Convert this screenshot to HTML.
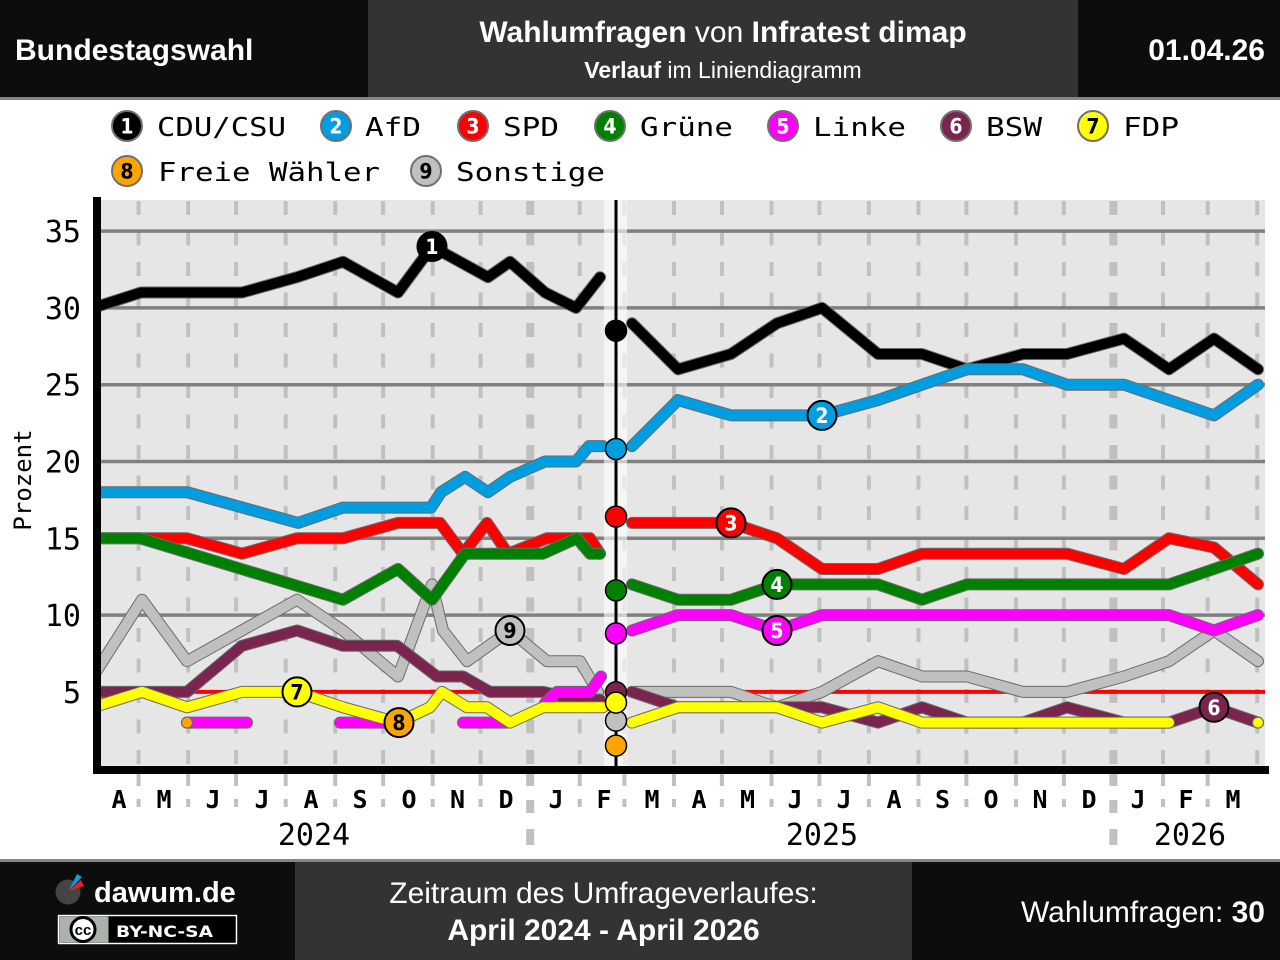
<!DOCTYPE html>
<html><head><meta charset="utf-8"><style>
html,body{margin:0;padding:0;background:#fff;}
svg{display:block;}
.o{fill:none;stroke:#6a6a6a;stroke-width:12;stroke-linecap:round;stroke-linejoin:round;}
.s{fill:none;stroke-width:10;stroke-linecap:round;stroke-linejoin:round;}
.hd{font-family:"Liberation Sans",Arial,sans-serif;fill:#fff;}
.mono{font-family:"DejaVu Sans Mono","Liberation Mono",monospace;}
.num{font-family:"DejaVu Sans Condensed","DejaVu Sans","Liberation Sans",sans-serif;font-weight:bold;font-size:21px;text-anchor:middle;}
</style></head><body>
<svg width="1280" height="960" viewBox="0 0 1280 960" xmlns="http://www.w3.org/2000/svg">
<defs><clipPath id="pc"><rect x="93" y="200" width="1172" height="567"/></clipPath></defs>
<rect width="1280" height="960" fill="#fff"/>
<!-- header -->
<rect x="0" y="0" width="368" height="97" fill="#0d0d0d"/>
<rect x="368" y="0" width="710" height="97" fill="#333"/>
<rect x="1078" y="0" width="202" height="97" fill="#0d0d0d"/>
<rect x="0" y="97" width="1280" height="3" fill="#858585"/>
<text class="hd" x="15" y="60" font-size="30" font-weight="bold">Bundestagswahl</text>
<text class="hd" x="723" y="42" font-size="30" text-anchor="middle"><tspan font-weight="bold">Wahlumfragen</tspan> von <tspan font-weight="bold">Infratest dimap</tspan></text>
<text class="hd" x="723" y="78" font-size="23" text-anchor="middle"><tspan font-weight="bold">Verlauf</tspan> im Liniendiagramm</text>
<text class="hd" x="1265" y="60" font-size="30" font-weight="bold" text-anchor="end">01.04.26</text>
<!-- legend -->
<g stroke="#707070" stroke-width="2">
<circle cx="127" cy="126" r="15" fill="#000"/>
<circle cx="336" cy="126" r="15" fill="#009ee0"/>
<circle cx="473" cy="126" r="15" fill="#ff0000"/>
<circle cx="610" cy="126" r="15" fill="#008000"/>
<circle cx="783" cy="126" r="15" fill="#ff00ff"/>
<circle cx="956" cy="126" r="15" fill="#7b2450"/>
<circle cx="1093" cy="126" r="15" fill="#ffff00"/>
<circle cx="127" cy="171" r="15" fill="#ffa500"/>
<circle cx="426" cy="171" r="15" fill="#c0c0c0"/>
</g>
<g class="num">
<text x="127" y="133.5" fill="#fff">1</text>
<text x="336" y="133.5" fill="#fff">2</text>
<text x="473" y="133.5" fill="#fff">3</text>
<text x="610" y="133.5" fill="#fff">4</text>
<text x="783" y="133.5" fill="#fff">5</text>
<text x="956" y="133.5" fill="#fff">6</text>
<text x="1093" y="133.5" fill="#000">7</text>
<text x="127" y="178.5" fill="#000">8</text>
<text x="426" y="178.5" fill="#000">9</text>
</g>
<g class="mono" font-size="26" fill="#000">
<text x="157" y="136" textLength="129" lengthAdjust="spacingAndGlyphs">CDU/CSU</text>
<text x="365" y="136" textLength="56" lengthAdjust="spacingAndGlyphs">AfD</text>
<text x="503" y="136" textLength="56" lengthAdjust="spacingAndGlyphs">SPD</text>
<text x="640" y="136" textLength="93" lengthAdjust="spacingAndGlyphs">Grüne</text>
<text x="813" y="136" textLength="93" lengthAdjust="spacingAndGlyphs">Linke</text>
<text x="986" y="136" textLength="56" lengthAdjust="spacingAndGlyphs">BSW</text>
<text x="1123" y="136" textLength="56" lengthAdjust="spacingAndGlyphs">FDP</text>
<text x="158" y="181" textLength="222" lengthAdjust="spacingAndGlyphs">Freie Wähler</text>
<text x="456" y="181" textLength="149" lengthAdjust="spacingAndGlyphs">Sonstige</text>
</g>
<!-- plot background -->
<rect x="101" y="200" width="1164" height="567" fill="#e6e6e6"/>
<!-- month lines -->
<g stroke="#c0c0c0" stroke-width="4" stroke-dasharray="14 16.5">
<line x1="138.6" y1="201" x2="138.6" y2="766"/>
<line x1="188.2" y1="201" x2="188.2" y2="766"/>
<line x1="236.1" y1="201" x2="236.1" y2="766"/>
<line x1="285.7" y1="201" x2="285.7" y2="766"/>
<line x1="335.2" y1="201" x2="335.2" y2="766"/>
<line x1="383.1" y1="201" x2="383.1" y2="766"/>
<line x1="432.7" y1="201" x2="432.7" y2="766"/>
<line x1="480.6" y1="201" x2="480.6" y2="766"/>
<line x1="579.7" y1="201" x2="579.7" y2="766"/>
<line x1="624.4" y1="201" x2="624.4" y2="766"/>
<line x1="674" y1="201" x2="674" y2="766"/>
<line x1="721.9" y1="201" x2="721.9" y2="766"/>
<line x1="771.5" y1="201" x2="771.5" y2="766"/>
<line x1="819.4" y1="201" x2="819.4" y2="766"/>
<line x1="868.9" y1="201" x2="868.9" y2="766"/>
<line x1="918.5" y1="201" x2="918.5" y2="766"/>
<line x1="966.4" y1="201" x2="966.4" y2="766"/>
<line x1="1016" y1="201" x2="1016" y2="766"/>
<line x1="1063.9" y1="201" x2="1063.9" y2="766"/>
<line x1="1163" y1="201" x2="1163" y2="766"/>
<line x1="1207.7" y1="201" x2="1207.7" y2="766"/>
<line x1="1257.2" y1="201" x2="1257.2" y2="766"/>
<line x1="530.2" y1="201" x2="530.2" y2="766" stroke-width="8"/>
<line x1="1113.4" y1="201" x2="1113.4" y2="766" stroke-width="8"/>
</g>
<!-- gridlines -->
<g stroke="#808080" stroke-width="3.5">
<line x1="101" y1="231.1" x2="1265" y2="231.1"/>
<line x1="101" y1="307.9" x2="1265" y2="307.9"/>
<line x1="101" y1="384.7" x2="1265" y2="384.7"/>
<line x1="101" y1="461.5" x2="1265" y2="461.5"/>
<line x1="101" y1="538.3" x2="1265" y2="538.3"/>
<line x1="101" y1="615.1" x2="1265" y2="615.1"/>
</g>
<line x1="101" y1="691.9" x2="1265" y2="691.9" stroke="#ff0000" stroke-width="4"/>
<rect x="604" y="200" width="23" height="567" fill="#fff" fill-opacity="0.6"/>
<!-- series -->
<g clip-path="url(#pc)">
<!-- Sonstige -->
<polyline class="o" points="93,676.5 142,599.7 187,661.2 297,599.7 343,630.5 398,676.5 432,584.4 443,630.5 467,661.2 510,630.5 547,661.2 580,661.2 598,691.9"/>
<polyline class="s" stroke="#c0c0c0" points="93,676.5 142,599.7 187,661.2 297,599.7 343,630.5 398,676.5 432,584.4 443,630.5 467,661.2 510,630.5 547,661.2 580,661.2 598,691.9"/>
<polyline class="o" points="632,691.9 731,691.9 777,707.3 822,691.9 878,661.2 922,676.5 967,676.5 1023,691.9 1067,691.9 1124,676.5 1169,661.2 1214,630.5 1258,661.2"/>
<polyline class="s" stroke="#c0c0c0" points="632,691.9 731,691.9 777,707.3 822,691.9 878,661.2 922,676.5 967,676.5 1023,691.9 1067,691.9 1124,676.5 1169,661.2 1214,630.5 1258,661.2"/>
<!-- CDU -->
<polyline class="o" points="93,307.9 141,292.5 242,292.5 297,277.2 343,261.8 398,292.5 432,246.5 488,277.2 510,261.8 545,292.5 576,307.9 600,277.2"/>
<polyline class="s" stroke="#000" points="93,307.9 141,292.5 242,292.5 297,277.2 343,261.8 398,292.5 432,246.5 488,277.2 510,261.8 545,292.5 576,307.9 600,277.2"/>
<polyline class="o" points="632,323.3 678,369.3 731,354 777,323.3 822,307.9 878,354 922,354 967,369.3 1023,354 1067,354 1124,338.6 1169,369.3 1214,338.6 1258,369.3"/>
<polyline class="s" stroke="#000" points="632,323.3 678,369.3 731,354 777,323.3 822,307.9 878,354 922,354 967,369.3 1023,354 1067,354 1124,338.6 1169,369.3 1214,338.6 1258,369.3"/>
<!-- AfD -->
<polyline class="o" points="93,492.2 187,492.2 298,522.9 343,507.6 431,507.6 441,492.2 465,476.9 488,492.2 510,476.9 545,461.5 576,461.5 589,446.1 603,446.1"/>
<polyline class="s" stroke="#009ee0" points="93,492.2 187,492.2 298,522.9 343,507.6 431,507.6 441,492.2 465,476.9 488,492.2 510,476.9 545,461.5 576,461.5 589,446.1 603,446.1"/>
<polyline class="o" points="632,446.1 678,400.1 731,415.4 822,415.4 878,400.1 922,384.7 967,369.3 1023,369.3 1067,384.7 1124,384.7 1169,400.1 1214,415.4 1258,384.7"/>
<polyline class="s" stroke="#009ee0" points="632,446.1 678,400.1 731,415.4 822,415.4 878,400.1 922,384.7 967,369.3 1023,369.3 1067,384.7 1124,384.7 1169,400.1 1214,415.4 1258,384.7"/>
<!-- SPD -->
<polyline class="o" points="93,538.3 187,538.3 242,553.7 297,538.3 343,538.3 398,522.9 440,522.9 463,553.7 487,522.9 508,553.7 547,538.3 590,538.3 600,553.7"/>
<polyline class="s" stroke="#ff0000" points="93,538.3 187,538.3 242,553.7 297,538.3 343,538.3 398,522.9 440,522.9 463,553.7 487,522.9 508,553.7 547,538.3 590,538.3 600,553.7"/>
<polyline class="o" points="632,522.9 731,522.9 777,538.3 822,569 878,569 922,553.7 1067,553.7 1124,569 1169,538.3 1214,547.5 1258,584.4"/>
<polyline class="s" stroke="#ff0000" points="632,522.9 731,522.9 777,538.3 822,569 878,569 922,553.7 1067,553.7 1124,569 1169,538.3 1214,547.5 1258,584.4"/>
<!-- Grüne -->
<polyline class="o" points="93,538.3 140,538.3 343,599.7 398,569 432,599.7 465,553.7 543,553.7 577,538.3 590,553.7 600,553.7"/>
<polyline class="s" stroke="#008000" points="93,538.3 140,538.3 343,599.7 398,569 432,599.7 465,553.7 543,553.7 577,538.3 590,553.7 600,553.7"/>
<polyline class="o" points="632,584.4 678,599.7 731,599.7 777,584.4 878,584.4 922,599.7 967,584.4 1169,584.4 1214,569 1258,553.7"/>
<polyline class="s" stroke="#008000" points="632,584.4 678,599.7 731,599.7 777,584.4 878,584.4 922,599.7 967,584.4 1169,584.4 1214,569 1258,553.7"/>
<!-- BSW -->
<polyline class="o" points="93,691.9 187,691.9 242,645.8 297,630.5 343,645.8 397,645.8 437,676.5 463,676.5 490,691.9 543,691.9 577,699.6 600,699.6"/>
<polyline class="s" stroke="#7b2450" points="93,691.9 187,691.9 242,645.8 297,630.5 343,645.8 397,645.8 437,676.5 463,676.5 490,691.9 543,691.9 577,699.6 600,699.6"/>
<polyline class="o" points="632,691.9 678,707.3 822,707.3 878,722.6 922,707.3 967,722.6 1023,722.6 1067,707.3 1124,722.6 1169,722.6 1214,707.3 1258,722.6"/>
<polyline class="s" stroke="#7b2450" points="632,691.9 678,707.3 822,707.3 878,722.6 922,707.3 967,722.6 1023,722.6 1067,707.3 1124,722.6 1169,722.6 1214,707.3 1258,722.6"/>
<!-- Linke -->
<polyline class="o" points="187,722.6 247,722.6"/>
<polyline class="s" stroke="#ff00ff" points="187,722.6 247,722.6"/>
<polyline class="o" points="340,722.6 399,722.6"/>
<polyline class="s" stroke="#ff00ff" points="340,722.6 399,722.6"/>
<polyline class="o" points="463,722.6 506,722.6"/>
<polyline class="s" stroke="#ff00ff" points="463,722.6 506,722.6"/>
<polyline class="o" points="545,703 557,691.9 590,691.9 601,676.5"/>
<polyline class="s" stroke="#ff00ff" points="545,703 557,691.9 590,691.9 601,676.5"/>
<polyline class="o" points="632,630.5 678,615.1 731,615.1 777,630.5 822,615.1 1169,615.1 1214,630.5 1258,615.1"/>
<polyline class="s" stroke="#ff00ff" points="632,630.5 678,615.1 731,615.1 777,630.5 822,615.1 1169,615.1 1214,630.5 1258,615.1"/>
<!-- FDP -->
<polyline class="o" points="93,707.3 142,691.9 187,707.3 242,691.9 297,691.9 343,707.3 398,722.6 430,707.3 442,691.9 467,707.3 487,707.3 510,722.6 543,707.3 603,707.3"/>
<polyline class="s" stroke="#ffff00" points="93,707.3 142,691.9 187,707.3 242,691.9 297,691.9 343,707.3 398,722.6 430,707.3 442,691.9 467,707.3 487,707.3 510,722.6 543,707.3 603,707.3"/>
<polyline class="o" points="632,722.6 678,707.3 777,707.3 822,722.6 878,707.3 922,722.6 1169,722.6"/>
<polyline class="s" stroke="#ffff00" points="632,722.6 678,707.3 777,707.3 822,722.6 878,707.3 922,722.6 1169,722.6"/>
<circle cx="1258" cy="722.6" r="5.5" fill="#ffff00" stroke="#6a6a6a" stroke-width="1.2"/>
<!-- FW dots -->
<circle cx="93" cy="722.6" r="5.5" fill="#ffa500" stroke="#6a6a6a" stroke-width="1.2"/>
<circle cx="187" cy="722.6" r="5.5" fill="#ffa500" stroke="#6a6a6a" stroke-width="1.2"/>
</g>
<!-- election line -->
<line x1="616" y1="200" x2="616" y2="767" stroke="#000" stroke-width="3"/>
<g stroke="#000" stroke-width="1.5">
<circle cx="616" cy="330.7" r="10.5" fill="#000"/>
<circle cx="616" cy="449" r="10.5" fill="#009ee0"/>
<circle cx="616" cy="516.6" r="10.5" fill="#ff0000"/>
<circle cx="616" cy="590.4" r="10.5" fill="#008000"/>
<circle cx="616" cy="633.4" r="10.5" fill="#ff00ff"/>
<circle cx="616" cy="745.6" r="10.5" fill="#ffa500"/>
<circle cx="616" cy="720.6" r="10.5" fill="#c0c0c0"/>
<circle cx="616" cy="692.3" r="10.5" fill="#7b2450"/>
<circle cx="616" cy="702.6" r="10.5" fill="#ffff00"/>
</g>
<!-- numbered markers -->
<g stroke="#000" stroke-width="2">
<circle cx="432" cy="246.5" r="14.5" fill="#000"/>
<circle cx="822" cy="415.4" r="14.5" fill="#009ee0"/>
<circle cx="731" cy="522.9" r="14.5" fill="#ff0000"/>
<circle cx="777" cy="584.4" r="14.5" fill="#008000"/>
<circle cx="777" cy="630.5" r="14.5" fill="#ff00ff"/>
<circle cx="1214" cy="707.3" r="14.5" fill="#7b2450"/>
<circle cx="297" cy="691.9" r="14.5" fill="#ffff00"/>
<circle cx="399" cy="722.6" r="14.5" fill="#ffa500"/>
<circle cx="510" cy="630.5" r="14.5" fill="#c0c0c0"/>
</g>
<g class="num">
<text x="432" y="254" fill="#fff">1</text>
<text x="822" y="423" fill="#fff">2</text>
<text x="731" y="530.5" fill="#fff">3</text>
<text x="777" y="592" fill="#fff">4</text>
<text x="777" y="638" fill="#fff">5</text>
<text x="1214" y="715" fill="#fff">6</text>
<text x="297" y="699.5" fill="#000">7</text>
<text x="399" y="730" fill="#000">8</text>
<text x="510" y="638" fill="#000">9</text>
</g>
<!-- axes -->
<rect x="93" y="197" width="8" height="577" fill="#000"/>
<rect x="93" y="766" width="1176" height="8" fill="#000"/>
<!-- ticks below axis -->
<g stroke="#c0c0c0" stroke-width="4">
<path d="M138.6 774V786M138.6 799V807M188.2 774V786M188.2 799V807M236.1 774V786M236.1 799V807M285.7 774V786M285.7 799V807M335.2 774V786M335.2 799V807M383.1 774V786M383.1 799V807M432.7 774V786M432.7 799V807M480.6 774V786M480.6 799V807M579.7 774V786M579.7 799V807M624.4 774V786M624.4 799V807M674 774V786M674 799V807M721.9 774V786M721.9 799V807M771.5 774V786M771.5 799V807M819.4 774V786M819.4 799V807M868.9 774V786M868.9 799V807M918.5 774V786M918.5 799V807M966.4 774V786M966.4 799V807M1016 774V786M1016 799V807M1063.9 774V786M1063.9 799V807M1163 774V786M1163 799V807M1207.7 774V786M1207.7 799V807"/>
<path stroke-width="8" d="M530.2 774V786M530.2 800V813M530.2 829V845M1113.4 774V786M1113.4 800V813M1113.4 829V845"/>
</g>
<!-- y labels -->
<g class="mono" font-size="30" fill="#000" text-anchor="end">
<text x="81" y="242">35</text>
<text x="81" y="319">30</text>
<text x="81" y="395.7">25</text>
<text x="81" y="472.5">20</text>
<text x="81" y="549.3">15</text>
<text x="81" y="626">10</text>
<text x="81" y="703">5</text>
</g>
<text class="mono" font-size="24" fill="#000" text-anchor="middle" transform="translate(31,480) rotate(-90)">Prozent</text>
<!-- month labels -->
<g class="mono" font-size="25" font-weight="bold" fill="#000" text-anchor="middle">
<text x="119" y="808">A</text><text x="164" y="808">M</text><text x="213" y="808">J</text><text x="262" y="808">J</text>
<text x="311" y="808">A</text><text x="360" y="808">S</text><text x="409" y="808">O</text><text x="457.5" y="808">N</text>
<text x="506" y="808">D</text><text x="556" y="808">J</text><text x="604" y="808">F</text><text x="652" y="808">M</text>
<text x="699" y="808">A</text><text x="747.5" y="808">M</text><text x="795" y="808">J</text><text x="844" y="808">J</text>
<text x="894" y="808">A</text><text x="942.5" y="808">S</text><text x="991" y="808">O</text><text x="1040" y="808">N</text>
<text x="1089" y="808">D</text><text x="1138" y="808">J</text><text x="1186" y="808">F</text><text x="1233" y="808">M</text>
</g>
<g class="mono" font-size="30" fill="#000" text-anchor="middle">
<text x="314" y="845">2024</text>
<text x="822" y="845">2025</text>
<text x="1190" y="845">2026</text>
</g>
<!-- footer -->
<rect x="0" y="859" width="1280" height="3" fill="#858585"/>
<rect x="0" y="862" width="295" height="98" fill="#0d0d0d"/>
<rect x="295" y="862" width="617" height="98" fill="#333"/>
<rect x="912" y="862" width="368" height="98" fill="#0d0d0d"/>
<circle cx="68" cy="892" r="12.5" fill="#444"/>
<polygon points="69,890 77,874 82,877" fill="#00a0e8"/>
<polygon points="69,891 81,880 84,886" fill="#e8202a"/>
<text class="hd" x="94" y="902" font-size="29" font-weight="bold">dawum.de</text>
<rect x="57" y="914" width="181" height="31" fill="#000"/>
<rect x="58.5" y="915.5" width="178" height="28" fill="none" stroke="#fff" stroke-width="1.5"/>
<rect x="59.5" y="916.5" width="49" height="26" fill="#aab2ab"/>
<circle cx="83" cy="929.5" r="12" fill="#fff" stroke="#000" stroke-width="3"/>
<text x="83" y="935" font-family="'Liberation Sans',sans-serif" font-weight="bold" font-size="15" text-anchor="middle" fill="#000">cc</text>
<text x="116" y="937" font-family="'DejaVu Sans','Liberation Sans',sans-serif" font-weight="bold" font-size="16" fill="#fff" textLength="97" lengthAdjust="spacingAndGlyphs">BY-NC-SA</text>
<text class="hd" x="603.5" y="903" font-size="30" text-anchor="middle">Zeitraum des Umfrageverlaufes:</text>
<text class="hd" x="603.5" y="940" font-size="30" font-weight="bold" text-anchor="middle">April 2024 - April 2026</text>
<text class="hd" x="1265" y="922" font-size="30" text-anchor="end">Wahlumfragen: <tspan font-weight="bold">30</tspan></text>
</svg>
</body></html>
